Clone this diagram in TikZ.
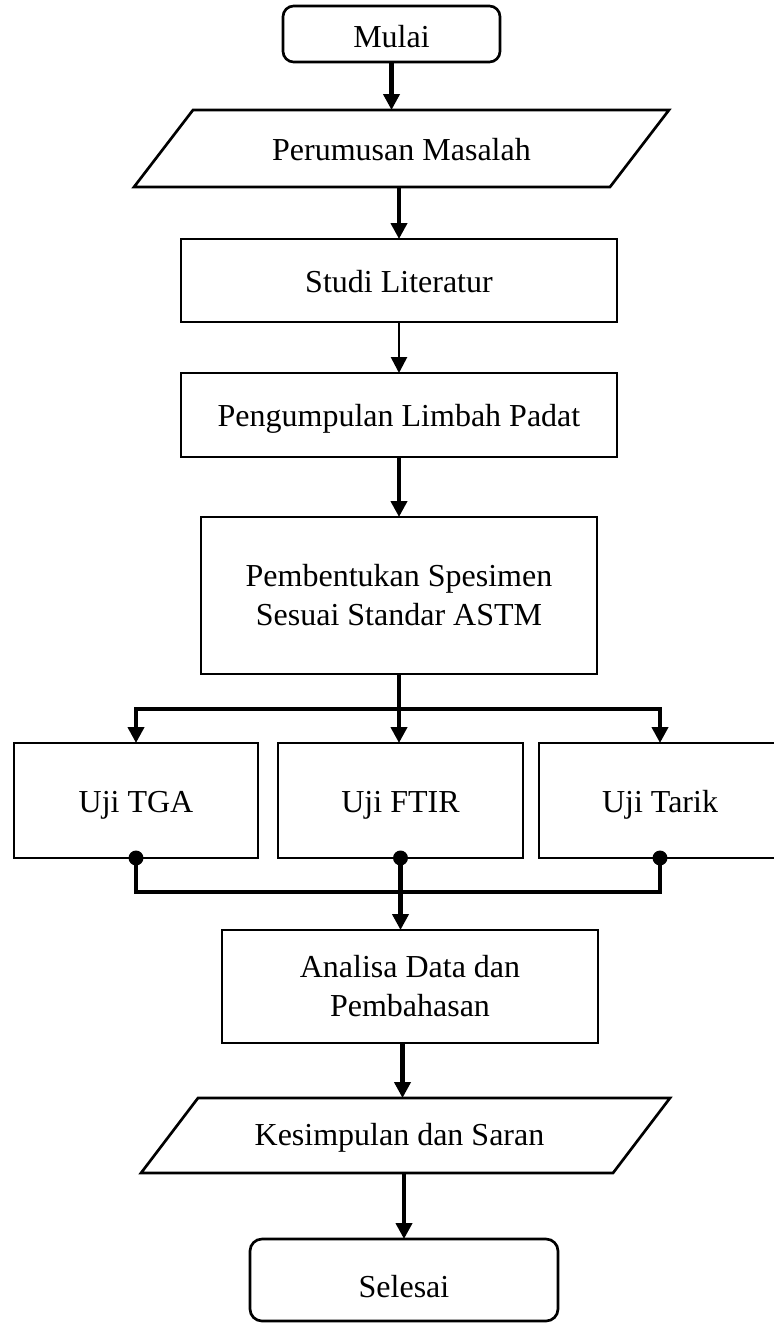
\documentclass[tikz,border=0pt]{standalone}
\usepackage{fontspec}
\setmainfont{Liberation Serif}
\usetikzlibrary{arrows.meta,calc}
\begin{document}
\begin{tikzpicture}[x=0.75pt,y=-0.75pt,
  base/.style={inner sep=0pt,outer sep=0pt,align=center,
    font=\fontsize{24}{29.25}\selectfont},
  single/.style={text height=17.3pt,text depth=0pt},
  box/.style={base,draw,line width=2pt},
  term/.style={box,rounded corners=8pt},
  para/.style={base},
  conn/.style={line width=3.4pt,-{Triangle[length=12pt,width=12pt]}},
  thin/.style={line width=2pt,-{Triangle[length=12pt,width=12pt]}},
  line/.style={line width=3.4pt},
  dot/.style={fill=black}]
\useasboundingbox (0,0) rectangle (774,1328);
\clip (0,0) rectangle (774,1328);
% nodes
\node[term,single,text height=19.5pt,minimum width=162.75pt,minimum height=42pt] (mulai) at (391.5,34) {Mulai};
\node[para,single,minimum width=357pt,minimum height=57.75pt] (pm) at (401.5,148.5) {Perumusan Masalah};
\draw[line width=2pt] ([xshift=22.125pt]pm.north west) -- ([xshift=22.125pt]pm.north east)
  -- ([xshift=-22.125pt]pm.south east) -- ([xshift=-22.125pt]pm.south west) -- cycle;
\node[box,single,minimum width=327pt,minimum height=62.25pt] (studi) at (399,280.5) {Studi Literatur};
\node[box,single,minimum width=327pt,minimum height=63pt] (kumpul) at (399,415) {Pengumpulan Limbah Padat};
\node[box,minimum width=297pt,minimum height=117.75pt] (bentuk) at (399,595.5) {Pembentukan Spesimen\\Sesuai Standar ASTM};
\node[box,single,minimum width=183pt,minimum height=86.25pt] (tga) at (136,800.5) {Uji TGA};
\node[box,single,minimum width=183.75pt,minimum height=86.25pt] (ftir) at (400.5,800.5) {Uji FTIR};
\node[box,single,minimum width=181.5pt,minimum height=86.25pt] (tarik) at (660,800.5) {Uji Tarik};
\node[box,minimum width=282pt,minimum height=84.75pt] (analisa) at (410,986.5) {Analisa Data dan\\Pembahasan};
\node[para,single,text height=14.3pt,minimum width=354pt,minimum height=56.25pt] (simpul) at (405.5,1135.5) {\hspace*{-9pt}Kesimpulan dan Saran};
\draw[line width=2pt] ([xshift=21.375pt]simpul.north west) -- ([xshift=21.375pt]simpul.north east)
  -- ([xshift=-21.375pt]simpul.south east) -- ([xshift=-21.375pt]simpul.south west) -- cycle;
\node[term,single,text height=25.5pt,rounded corners=9pt,minimum width=231pt,minimum height=61.5pt] (selesai) at (404,1280) {Selesai};
% junctions
\coordinate (j1) at (399,709);
\coordinate (j2) at (400.5,892);
% connectors
\draw[conn] (mulai.south) -- (mulai.south |- pm.north);
\draw[conn] (studi.north |- pm.south) -- (studi.north);
\draw[thin] (studi.south) -- (kumpul.north);
\draw[conn] (kumpul.south) -- (bentuk.north);
\draw[line] (bentuk.south) -- (j1);
\draw[line,{Triangle[length=12pt,width=12pt]}-{Triangle[length=12pt,width=12pt]}]
  (tga.north) -- (tga.north |- j1) -- (tarik.north |- j1) -- (tarik.north);
\draw[conn] (j1) -- (j1 |- ftir.north);
\draw[line] (tga.south) -- (tga.south |- j2) -- (tarik.south |- j2) -- (tarik.south);
\draw[conn] (ftir.south) -- (ftir.south |- analisa.north);
\fill[dot] (tga.south) circle (5.6pt);
\fill[dot] (ftir.south) circle (5.6pt);
\fill[dot] (tarik.south) circle (5.6pt);
\draw[conn] (analisa.south -| simpul.north) ++(-3,0) coordinate (a1) (a1) -- (a1 |- simpul.north);
\draw[conn] (selesai.north |- simpul.south) -- (selesai.north);
\end{tikzpicture}
\end{document}
